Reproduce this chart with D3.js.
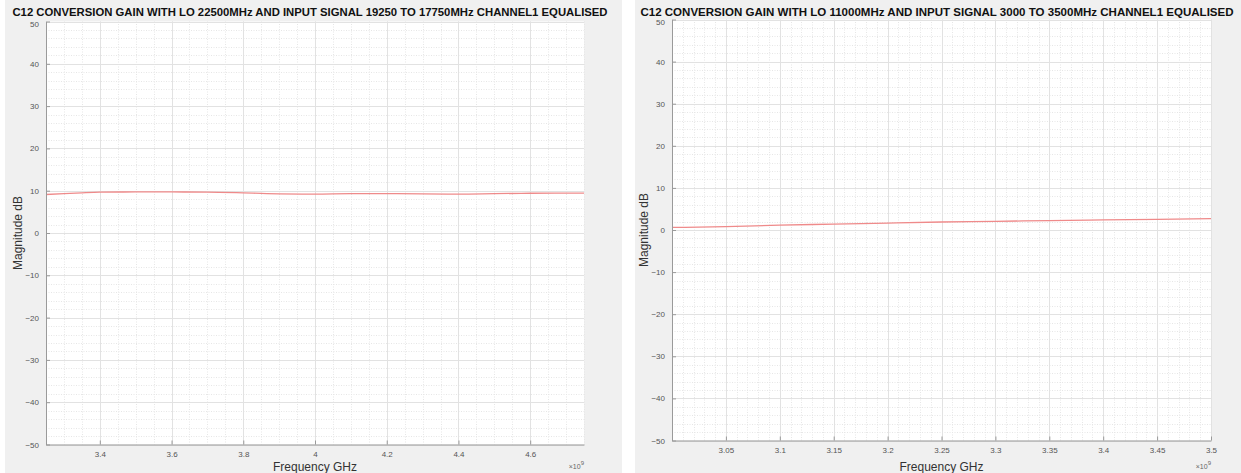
<!DOCTYPE html>
<html>
<head>
<meta charset="utf-8">
<script src="https://cdn.jsdelivr.net/npm/d3@7"></script>
<style>
  html, body { margin: 0; padding: 0; background: #ffffff; }
  svg { display: block; }
  text { font-family: "Liberation Sans", Arial, Helvetica, sans-serif; }
</style>
</head>
<body>
<svg id="fig" width="1241" height="473"></svg>
<script>
// Channel 1 equalised conversion gain, two LO settings
const leftTitle = "C12 CONVERSION GAIN WITH LO 22500MHz AND INPUT SIGNAL 19250 TO 17750MHz CHANNEL1 EQUALISED";
const leftFreqGHz = [3.25, 3.30, 3.35, 3.40, 3.50, 3.60, 3.70, 3.80, 3.85, 3.90, 4.00, 4.10, 4.20, 4.30, 4.40, 4.50, 4.60, 4.70, 4.75];
const leftGainDb  = [9.1, 9.3, 9.5, 9.65, 9.7, 9.7, 9.65, 9.5, 9.35, 9.25, 9.2, 9.3, 9.3, 9.25, 9.2, 9.3, 9.4, 9.45, 9.45];
const leftXTicks  = [3.4, 3.6, 3.8, 4.0, 4.2, 4.4, 4.6];
const leftXDomain = [3.25, 4.75];

const rightTitle = "C12 CONVERSION GAIN WITH LO 11000MHz AND INPUT SIGNAL 3000 TO 3500MHz CHANNEL1 EQUALISED";
const rightFreqGHz = [3.00, 3.05, 3.10, 3.15, 3.20, 3.25, 3.30, 3.35, 3.40, 3.45, 3.50];
const rightGainDb  = [0.6, 0.8, 1.15, 1.4, 1.65, 1.9, 2.05, 2.25, 2.4, 2.5, 2.7];
const rightXTicks  = [3.05, 3.1, 3.15, 3.2, 3.25, 3.3, 3.35, 3.4, 3.45, 3.5];
const rightXDomain = [3.0, 3.5];

const yTicks = [50, 40, 30, 20, 10, 0, -10, -20, -30, -40, -50];
const yDomain = [-50, 50];
const xLabel = "Frequency GHz";
const yLabel = "Magnitude dB";
const exponentLabel = "9";

const svg = d3.select("#fig");

function drawPanel(p) {
  const g = svg.append("g");
  // figure background
  g.append("rect").attr("x", p.bg[0]).attr("y", 0)
    .attr("width", p.bg[1] - p.bg[0]).attr("height", 473).attr("fill", "#f0f0f0");

  const x = d3.scaleLinear().domain(p.xDomain).range([p.left, p.right]);
  const y = d3.scaleLinear().domain(yDomain).range([p.bottom, p.top]);

  g.append("rect").attr("x", p.left).attr("y", p.top)
    .attr("width", p.right - p.left).attr("height", p.bottom - p.top).attr("fill", "#ffffff");

  // minor grid
  const xMinor = d3.range(Math.round(p.xDomain[0] / p.xMinorStep), Math.round(p.xDomain[1] / p.xMinorStep) + 1)
    .map(k => +(k * p.xMinorStep).toFixed(4));
  const yMinor = d3.range(-25, 26).map(k => k * 2);
  g.append("g").selectAll("line").data(xMinor).join("line")
    .attr("x1", d => Math.round(x(d)) + 0.5).attr("x2", d => Math.round(x(d)) + 0.5)
    .attr("y1", p.top).attr("y2", p.bottom)
    .attr("stroke", "#e6e6e6").attr("stroke-dasharray", "1,1.5").attr("stroke-width", 1);
  g.append("g").selectAll("line").data(yMinor).join("line")
    .attr("y1", d => Math.round(y(d)) + 0.5).attr("y2", d => Math.round(y(d)) + 0.5)
    .attr("x1", p.left).attr("x2", p.right)
    .attr("stroke", "#e6e6e6").attr("stroke-dasharray", "1,1.5").attr("stroke-width", 1);

  // major grid
  g.append("g").selectAll("line").data(p.xTicks).join("line")
    .attr("x1", d => Math.round(x(d)) + 0.5).attr("x2", d => Math.round(x(d)) + 0.5)
    .attr("y1", p.top).attr("y2", p.bottom)
    .attr("stroke", "#e2e2e2").attr("stroke-width", 1);
  g.append("g").selectAll("line").data(yTicks).join("line")
    .attr("y1", d => Math.round(y(d)) + 0.5).attr("y2", d => Math.round(y(d)) + 0.5)
    .attr("x1", p.left).attr("x2", p.right)
    .attr("stroke", "#e2e2e2").attr("stroke-width", 1);

  // data line
  const line = d3.line().x((d, i) => x(p.xs[i])).y(d => y(d)).curve(d3.curveMonotoneX);
  g.append("path").datum(p.ys).attr("d", line)
    .attr("fill", "none").attr("stroke", "#ef8a8a").attr("stroke-width", 1.3);

  // axes (ticks point inward)
  const xAxis = d3.axisBottom(x).tickValues(p.xTicks).tickSizeInner(-4).tickSizeOuter(0)
    .tickPadding(7).tickFormat(d => d3.format("~g")(d));
  const gx = g.append("g").attr("transform", `translate(0,${p.bottom})`).call(xAxis);
  const yAxis = d3.axisLeft(y).tickValues(yTicks).tickSizeInner(-4).tickSizeOuter(0)
    .tickPadding(7).tickFormat(d3.format("d"));
  const gy = g.append("g").attr("transform", `translate(${p.left},0)`).call(yAxis);
  [gx, gy].forEach(ax => {
    ax.select(".domain").attr("stroke", "#9a9a9a");
    ax.selectAll(".tick line").attr("stroke", "#9a9a9a");
    ax.selectAll(".tick text").attr("fill", "#555555").attr("font-size", 8)
      .attr("font-family", "Liberation Sans, Arial, sans-serif");
  });
  // top y label sits a little lower so it clears the title
  gy.selectAll(".tick").filter(d => d === 50).select("text").attr("dy", "0.62em");

  // labels
  g.append("text").attr("x", (p.left + p.right) / 2).attr("y", 471)
    .attr("text-anchor", "middle").attr("font-size", 12).attr("fill", "#333333").text(xLabel);
  g.append("text").attr("transform", `translate(${p.yLabelX},${(p.top + p.bottom) / 2}) rotate(-90)`)
    .attr("text-anchor", "middle").attr("font-size", 12).attr("fill", "#333333").text(yLabel);
  const ex = g.append("text").attr("x", p.right).attr("y", 469)
    .attr("text-anchor", "end").attr("font-size", 7).attr("fill", "#666666");
  ex.append("tspan").text("\u00d710");
  ex.append("tspan").attr("dy", -4).attr("font-size", 6).text(exponentLabel);

  // title: font size chosen so the text fills the wanted width naturally
  const t = g.append("text").attr("x", p.titleX).attr("y", 16)
    .attr("text-anchor", "middle").attr("font-size", 12.5).attr("font-weight", "bold")
    .attr("fill", "#111111").text(p.title);
  const natural = t.node().getComputedTextLength();
  t.attr("font-size", 12.5 * p.titleW / natural);
}

drawPanel({
  bg: [5, 622], left: 46, right: 584, top: 21.5, bottom: 444.5,
  xDomain: leftXDomain, xTicks: leftXTicks, xMinorStep: 0.05,
  xs: leftFreqGHz, ys: leftGainDb, title: leftTitle, titleX: 310, titleW: 596, yLabelX: 22
});
drawPanel({
  bg: [635, 1241], left: 672, right: 1211, top: 19.5, bottom: 440.5,
  xDomain: rightXDomain, xTicks: rightXTicks, xMinorStep: 0.01,
  xs: rightFreqGHz, ys: rightGainDb, title: rightTitle, titleX: 937, titleW: 594, yLabelX: 648
});
</script>
</body>
</html>
